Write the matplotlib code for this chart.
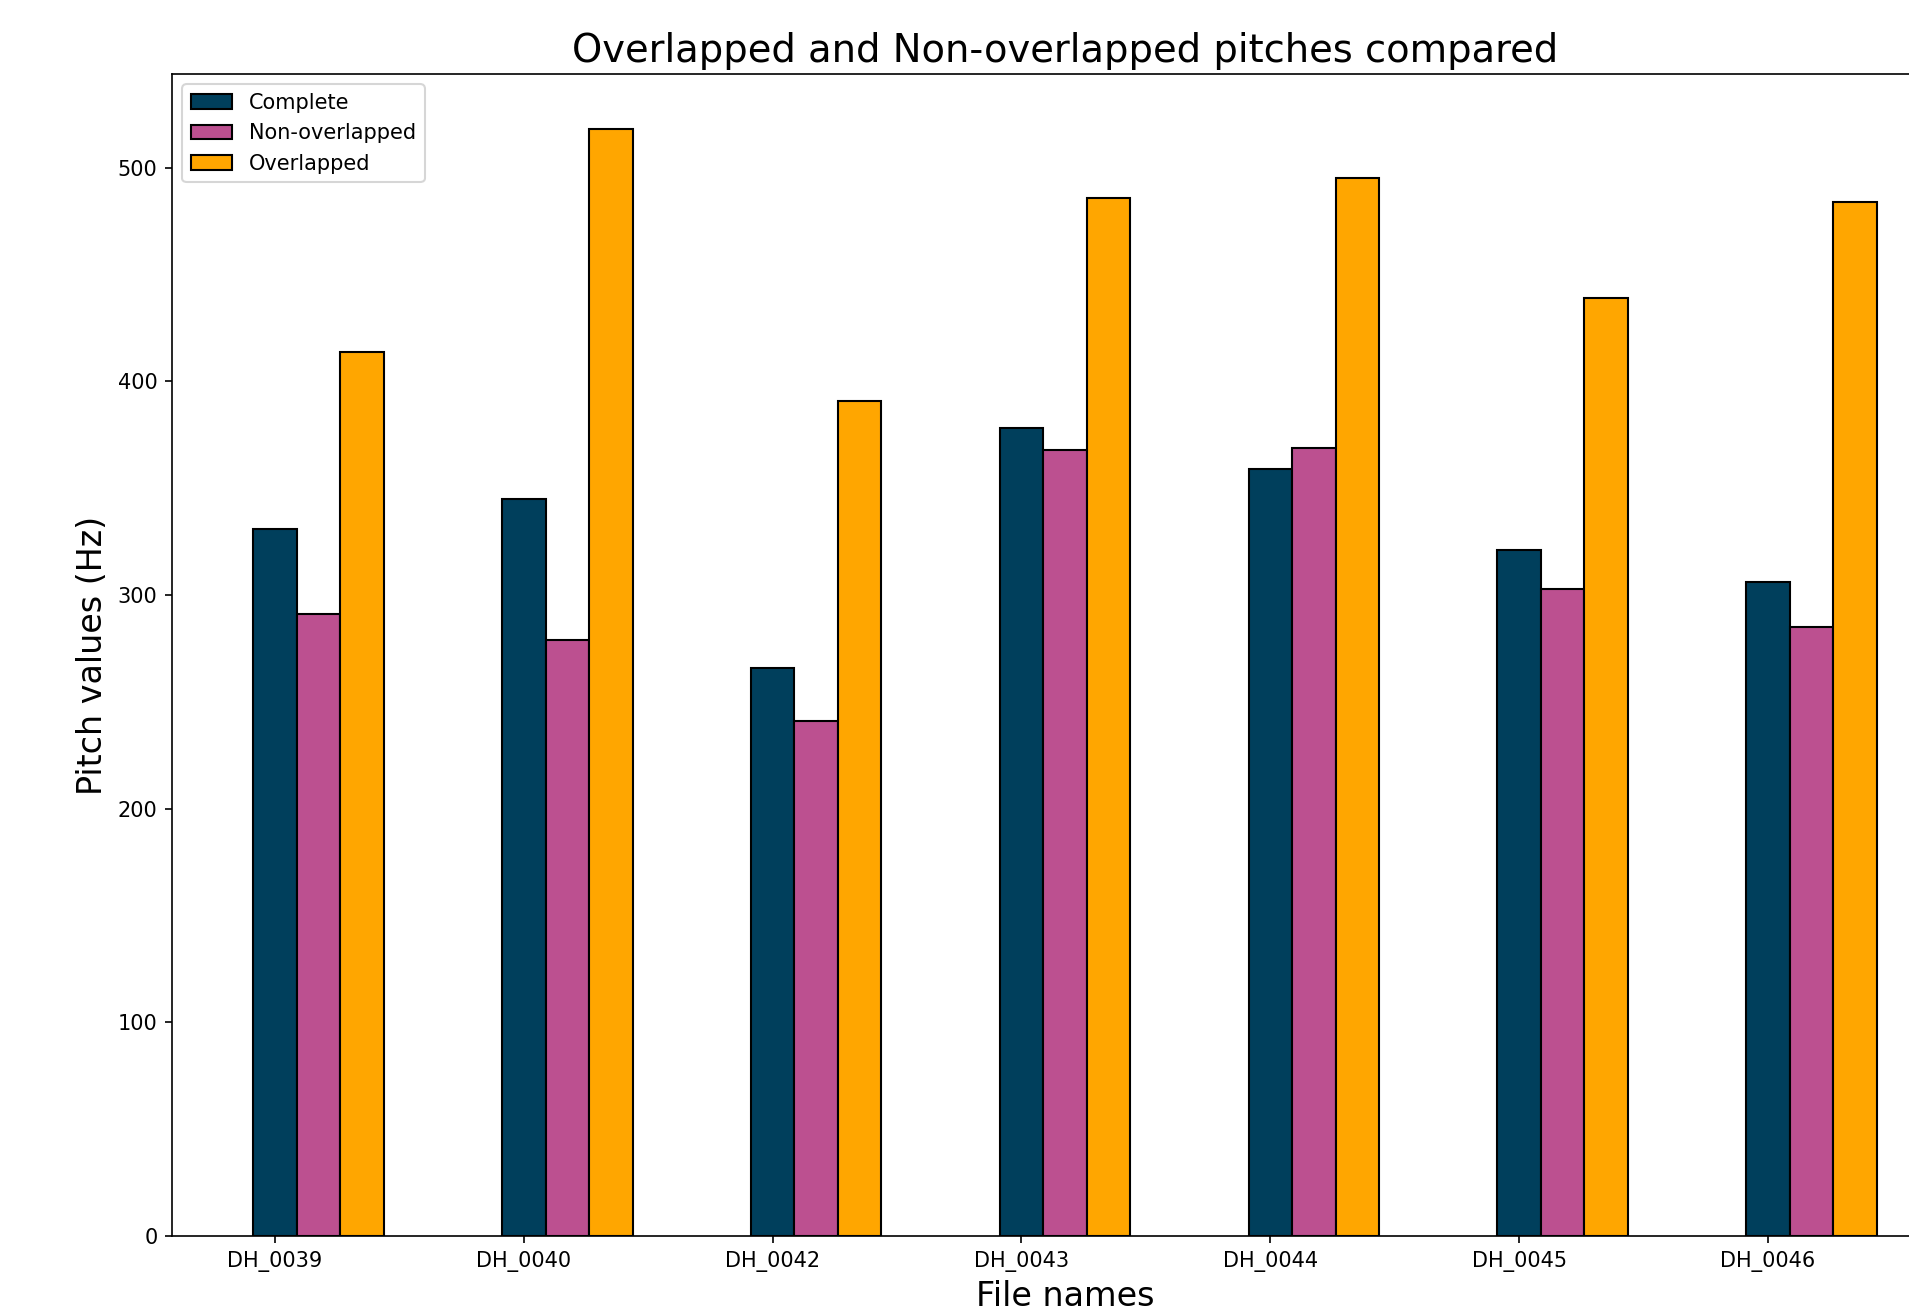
import matplotlib
matplotlib.use("Agg")
import matplotlib.pyplot as plt
import numpy as np

file_names = ['DH_0039', 'DH_0040', 'DH_0042', 'DH_0043', 'DH_0044', 'DH_0045', 'DH_0046']
complete = [331, 345, 266, 378, 359, 321, 306]
non_overlapped = [291, 279, 241, 368, 369, 303, 285]
overlapped = [414, 518, 391, 486, 495, 439, 484]

bar_width = 0.175
r1 = np.arange(len(file_names))
r2 = r1 + bar_width
r3 = r2 + bar_width

fig = plt.figure(figsize=(1909 / 150, 1315 / 150), dpi=150)
# axes runs past the right edge of the picture, as in the reference
ax = fig.add_axes([172 / 1909, 79 / 1315, 1786 / 1909, (1241 - 79) / 1315])

ax.bar(r1, complete, width=bar_width, color='#003f5c', edgecolor='black', label='Complete')
ax.bar(r2, non_overlapped, width=bar_width, color='#bc5090', edgecolor='black', label='Non-overlapped')
ax.bar(r3, overlapped, width=bar_width, color='#ffa600', edgecolor='black', label='Overlapped')

ax.set_xticks(r1)
ax.set_xticklabels(file_names)
ax.set_xlabel('File names', fontsize=16)
ax.set_ylabel('Pitch values (Hz)', fontsize=16)
ax.set_title('Overlapped and Non-overlapped pitches compared', fontsize=18.5)
ax.legend(loc='upper left')

fig.savefig('out.png', dpi=150)
